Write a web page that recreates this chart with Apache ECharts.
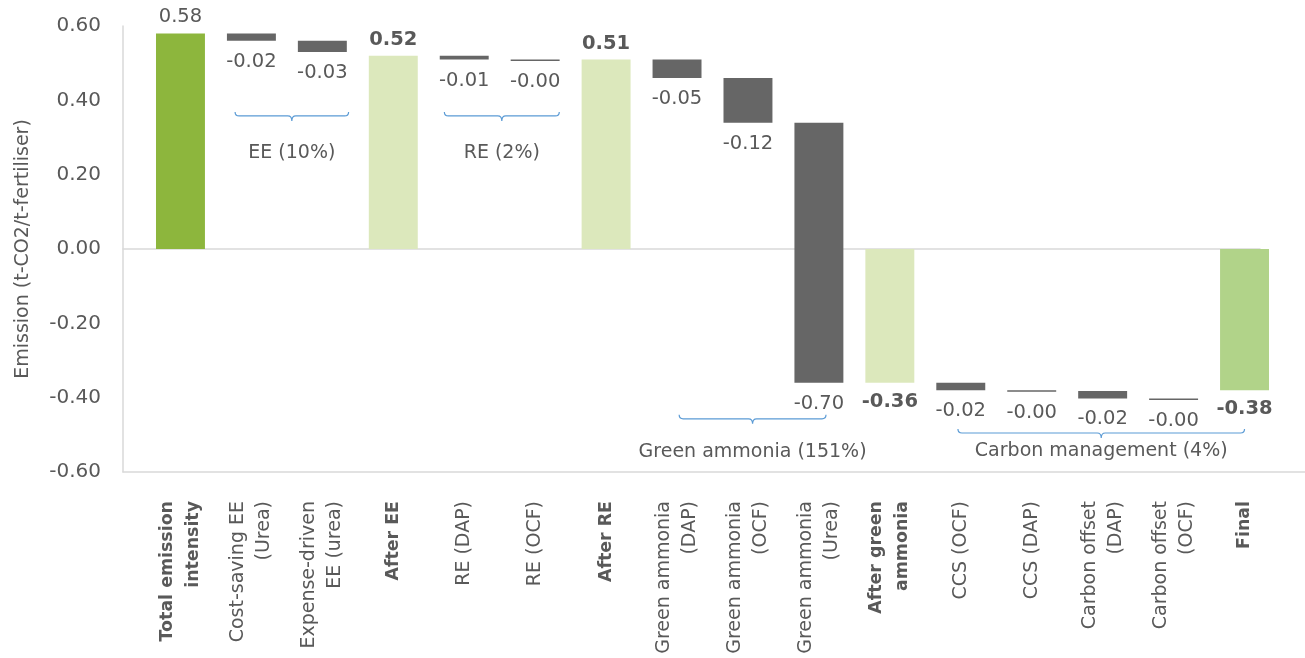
<!DOCTYPE html>
<html>
<head>
<meta charset="utf-8">
<title>Emission intensity waterfall</title>
<script src="https://cdn.jsdelivr.net/npm/echarts@6/dist/echarts.min.js"></script>
<style>
  html, body { margin: 0; padding: 0; background: #ffffff; }
  #chart { width: 1305px; height: 658px; }
</style>
</head>
<body>
<div id="chart"></div>
<script>
// ---- data ----
const categories = [
  'Total emission\nintensity', 'Cost-saving EE\n(Urea)', 'Expense-driven\nEE (urea)', 'After EE',
  'RE (DAP)', 'RE (OCF)', 'After RE',
  'Green ammonia\n(DAP)', 'Green ammonia\n(OCF)', 'Green ammonia\n(Urea)', 'After green\nammonia',
  'CCS (OCF)', 'CCS (DAP)', 'Carbon offset\n(DAP)', 'Carbon offset\n(OCF)', 'Final'
];
// 'start' / 'subtotal' / 'final' bars stand on zero, 'delta' bars float from the running level
const stepKinds = [
  'start', 'delta', 'delta', 'subtotal',
  'delta', 'delta', 'subtotal',
  'delta', 'delta', 'delta', 'subtotal',
  'delta', 'delta', 'delta', 'delta', 'final'
];
const stepValues = [
  0.58, -0.02, -0.03, 0.52,
  -0.01, -0.002, 0.51,
  -0.05, -0.12, -0.70, -0.36,
  -0.02, -0.002, -0.02, -0.002, -0.38
];
const yMin = -0.6, yMax = 0.6, yStep = 0.2;

const groupLabels = ['EE (10%)', 'RE (2%)', 'Green ammonia (151%)', 'Carbon management (4%)'];
const groupFirst = [1, 4, 7, 11];
const groupLast = [2, 5, 9, 14];

// ---- styling / annotation layout ----
const FONT = '"DejaVu Sans", "Noto Sans", sans-serif';
const TEXT = '#595959';
const AXIS = '#d9d9d9';
const BRACE = '#5b9bd5';
const fills = { start: '#8db63d', subtotal: '#dce8bc', final: '#b1d389', delta: '#666666' };
const boldKinds = { subtotal: true, final: true };
// brace ends as fractions of a category band relative to first/last centre, heights in axis units
const braceLayout = [
  { l: -0.23, r: 0.37, y: 0.358, ty: 0.258 },
  { l: -0.28, r: 0.34, y: 0.358, ty: 0.258 },
  { l: 0.03, r: 0.10, y: -0.457, ty: -0.546 },
  { l: -0.04, r: 1.00, y: -0.495, ty: -0.543 }
];

// ---- waterfall ranges ----
const barRows = [];
let level = 0;
stepValues.forEach((v, i) => {
  if (stepKinds[i] === 'delta') {
    barRows.push([i, level, level + v, v]);
    level += v;
  } else {
    barRows.push([i, 0, v, v]);
    level = v;
  }
});
const braceRows = groupLabels.map((g, k) => [groupFirst[k], braceLayout[k].y, groupLast[k], k]);

function renderBar(params, api) {
  const i = api.value(0);
  const a = api.value(1), b = api.value(2), v = api.value(3);
  const pA = api.coord([i, a]);
  const pB = api.coord([i, b]);
  const band = api.size([1, 0])[0];
  const w = band * 0.69;
  const top = Math.min(pA[1], pB[1]);
  const bottom = Math.max(pA[1], pB[1]);
  const h = Math.max(bottom - top, 1.5);
  const kind = stepKinds[i];
  const above = kind !== 'delta' && v >= 0;
  return {
    type: 'group',
    children: [
      {
        type: 'rect',
        shape: { x: pA[0] - w / 2, y: top, width: w, height: h },
        style: { fill: fills[kind] }
      },
      {
        type: 'text',
        style: {
          text: v.toFixed(2),
          x: pA[0],
          y: above ? top - 6 : top + h + (kind === 'delta' ? 11 : 9),
          align: 'center',
          verticalAlign: above ? 'bottom' : 'top',
          fill: TEXT,
          font: (boldKinds[kind] ? 'bold ' : '') + '19.5px ' + FONT
        }
      }
    ]
  };
}

function renderBrace(params, api) {
  const k = api.value(3);
  const lay = braceLayout[k];
  const band = api.size([1, 0])[0];
  const p1 = api.coord([api.value(0), api.value(1)]);
  const p2 = api.coord([api.value(2), api.value(1)]);
  const x1 = p1[0] + lay.l * band;
  const x2 = p2[0] + lay.r * band;
  const y = p1[1];
  const m = (x1 + x2) / 2;
  const c = 4;
  const path = `M${x1},${y - c} Q${x1},${y} ${x1 + c},${y} L${m - c},${y} Q${m},${y} ${m},${y + c + 1} ` +
               `Q${m},${y} ${m + c},${y} L${x2 - c},${y} Q${x2},${y} ${x2},${y - c}`;
  const tp = api.coord([api.value(0), lay.ty]);
  return {
    type: 'group',
    children: [
      { type: 'path', shape: { pathData: path }, style: { fill: 'none', stroke: BRACE, lineWidth: 1.2 } },
      {
        type: 'text',
        style: {
          text: groupLabels[k], x: m, y: tp[1],
          align: 'center', verticalAlign: 'middle',
          fill: TEXT, font: '19px ' + FONT
        }
      }
    ]
  };
}

const chart = echarts.init(document.getElementById('chart'), null, { renderer: 'canvas' });

const plainAxis = (extra) => Object.assign({
  axisLabel: { show: false }, axisTick: { show: false }, splitLine: { show: false }
}, extra);

chart.setOption({
  animation: false,
  backgroundColor: '#ffffff',
  grid: [
    { left: 123, right: 45, top: 26, height: 446 },
    { left: 123, right: 0, top: 26, height: 446 },
    { left: 145, right: 25, top: 26, height: 446 }
  ],
  xAxis: [
    plainAxis({ gridIndex: 0, type: 'value', min: 0, max: 1,
      axisLine: { show: true, onZero: true, lineStyle: { color: AXIS, width: 1.5 } } }),
    plainAxis({ gridIndex: 1, type: 'value', min: 0, max: 1,
      axisLine: { show: true, onZero: false, lineStyle: { color: AXIS, width: 1.5 } } }),
    {
      gridIndex: 2, type: 'category', data: categories,
      axisLine: { show: false }, axisTick: { show: false }, splitLine: { show: false },
      axisLabel: {
        interval: 0, rotate: 90, margin: 29,
        color: TEXT, fontFamily: FONT, fontSize: 19, lineHeight: 26,
        formatter: (val, idx) => {
          const bold = stepKinds[idx] !== 'delta';
          if (!bold) return val;
          return val.split('\n').map(s => '{b|' + s + '}').join('\n');
        },
        rich: { b: { fontWeight: 'bold', color: TEXT, fontFamily: FONT, fontSize: 17.4, lineHeight: 26 } }
      }
    }
  ],
  yAxis: [
    {
      gridIndex: 0, type: 'value', min: yMin, max: yMax, interval: yStep,
      name: 'Emission (t-CO2/t-fertiliser)', nameLocation: 'middle', nameGap: 90,
      nameTextStyle: { color: TEXT, fontFamily: FONT, fontSize: 19 },
      axisLine: { show: true, lineStyle: { color: AXIS, width: 1.5 } },
      axisTick: { show: false }, splitLine: { show: false },
      axisLabel: { color: TEXT, fontFamily: FONT, fontSize: 20, margin: 22,
        formatter: v => v.toFixed(2) }
    },
    plainAxis({ gridIndex: 1, type: 'value', min: yMin, max: yMax, axisLine: { show: false } }),
    plainAxis({ gridIndex: 2, type: 'value', min: yMin, max: yMax, axisLine: { show: false } })
  ],
  series: [
    {
      type: 'custom', xAxisIndex: 2, yAxisIndex: 2,
      renderItem: renderBar,
      encode: { x: 0, y: [1, 2] },
      data: barRows, clip: false, silent: true
    },
    {
      type: 'custom', xAxisIndex: 2, yAxisIndex: 2,
      renderItem: renderBrace,
      encode: { x: [0, 2], y: 1 },
      data: braceRows, clip: false, silent: true
    }
  ]
});
</script>
</body>
</html>
